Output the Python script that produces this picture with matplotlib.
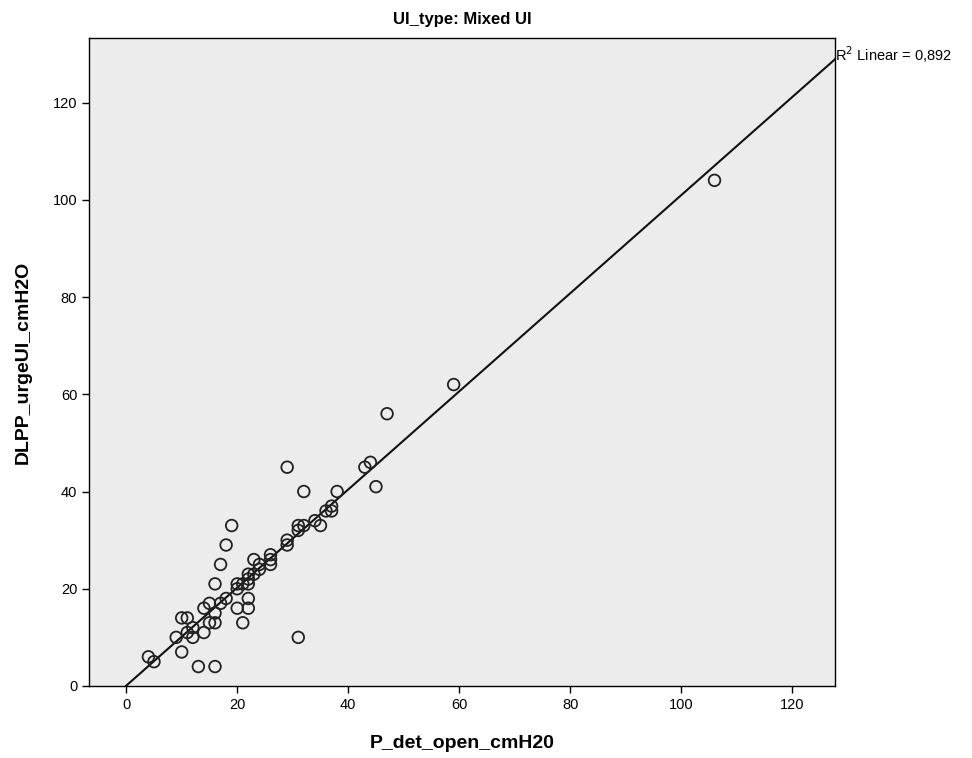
import numpy as np
import matplotlib
matplotlib.use("Agg")
import matplotlib.pyplot as plt

plt.rcParams['font.family'] = ['Liberation Sans', 'DejaVu Sans']

# P_det_open (x) vs DLPP_urgeUI (y)
p_det_open = [4, 5, 9, 10, 10, 11, 11, 12, 12, 13, 16, 14, 15, 16, 14, 15, 16, 17,
              18, 16, 17, 18, 19, 20, 21, 22, 22, 22, 20, 20, 22, 22, 21, 23, 23,
              24, 24, 26, 26, 26, 29, 29, 29, 31, 31, 32, 31, 32, 34, 35, 36, 37,
              37, 38, 43, 44, 45, 47, 59, 106]
dlpp_urge = [6, 5, 10, 7, 14, 14, 11, 12, 10, 4, 4, 11, 13, 13, 16, 17, 15, 17,
             18, 21, 25, 29, 33, 21, 21, 21, 22, 23, 20, 16, 16, 18, 13, 23, 26,
             25, 24, 27, 26, 25, 29, 30, 45, 32, 33, 33, 10, 40, 34, 33, 36, 37,
             36, 40, 45, 46, 41, 56, 62, 104]

x = np.array(p_det_open, dtype=float)
y = np.array(dlpp_urge, dtype=float)
slope, intercept = np.polyfit(x, y, 1)

fig = plt.figure(figsize=(9.72, 7.58), dpi=100)
ax = fig.add_axes([0.0916, 0.095, 0.7674, 0.855])
ax.set_facecolor("#ececec")

xmin, xmax = -6.7, 127.7
ax.set_xlim(xmin, xmax)
ax.set_ylim(0, 133.3)

ax.scatter(x, y, s=70, facecolors="none", edgecolors="#222222", linewidths=1.3, zorder=3)

xl = np.array([0, xmax])
ax.plot(xl, intercept + slope * xl, color="#111111", lw=1.5, zorder=2)

ax.set_xticks([0, 20, 40, 60, 80, 100, 120])
ax.set_yticks([0, 20, 40, 60, 80, 100, 120])
ax.tick_params(direction="out", length=5, width=1, labelsize=10.5, colors="black")
for s in ax.spines.values():
    s.set_color("black")
    s.set_linewidth(1)

ax.set_xlabel("P_det_open_cmH20", fontsize=14, fontweight="bold", labelpad=17)
ax.set_ylabel("DLPP_urgeUI_cmH2O", fontsize=14, fontweight="bold", labelpad=15)
ax.set_title("UI_type: Mixed UI", fontsize=12, fontweight="bold", pad=10)

ax.text(1.0, 0.99, "R$^2$ Linear = %s" % ("%.3f" % 0.892).replace(".", ","),
        transform=ax.transAxes, ha="left", va="top", fontsize=10.5)

fig.savefig("out.png", dpi=100)
